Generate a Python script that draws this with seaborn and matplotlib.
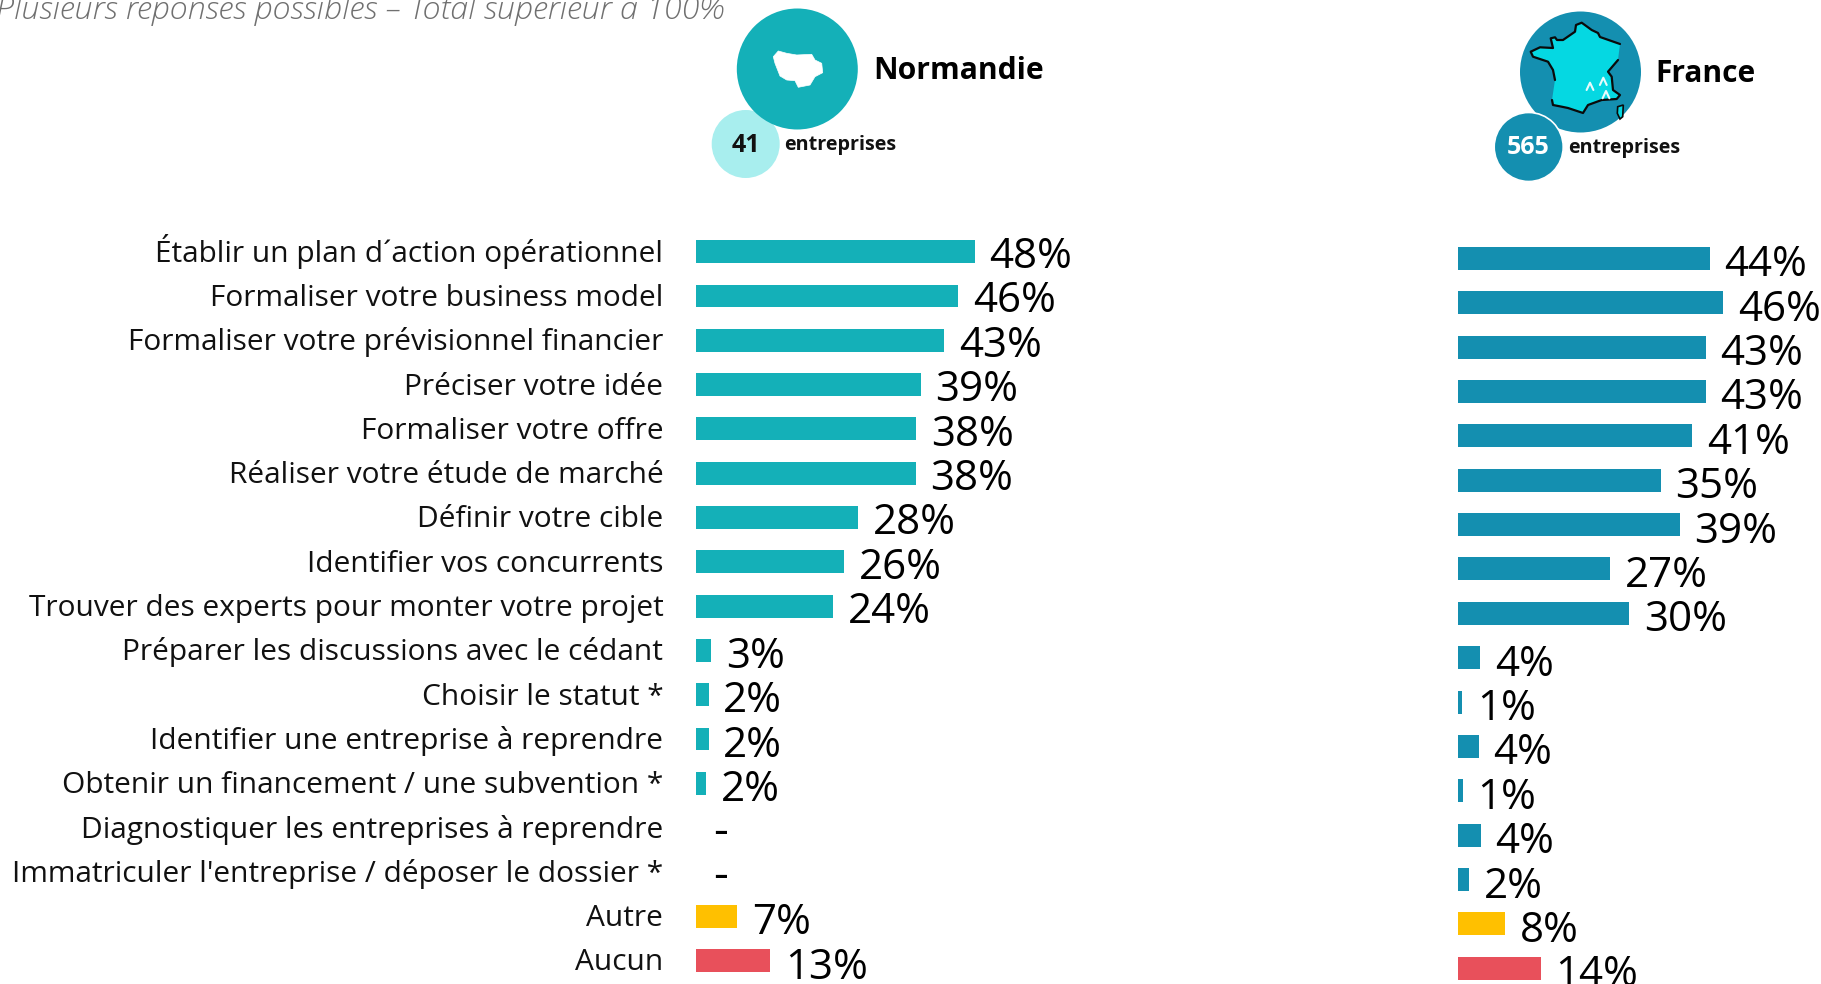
import matplotlib
matplotlib.use("Agg")
import matplotlib.pyplot as plt
from matplotlib.patches import Circle, Polygon
from matplotlib.transforms import ScaledTranslation
import pandas as pd
import seaborn as sns

W, H = 1821, 984
TEAL, BLUE, PALE, CYAN = "#14B0B8", "#148FB0", "#A8EEEE", "#05D8E2"
YELLOW, RED = "#FFC000", "#E8505B"

categories = ["Établir un plan d´action opérationnel", "Formaliser votre business model",
              "Formaliser votre prévisionnel financier", "Préciser votre idée",
              "Formaliser votre offre", "Réaliser votre étude de marché", "Définir votre cible",
              "Identifier vos concurrents", "Trouver des experts pour monter votre projet",
              "Préparer les discussions avec le cédant", "Choisir le statut *",
              "Identifier une entreprise à reprendre", "Obtenir un financement / une subvention *",
              "Diagnostiquer les entreprises à reprendre",
              "Immatriculer l'entreprise / déposer le dossier *", "Autre", "Aucun"]
normandie_values = [48.1, 45.2, 42.8, 38.8, 38.0, 37.85, 27.9, 25.6, 23.7, 2.6, 2.2, 2.2, 1.72, 0, 0, 7.1, 12.8]
normandie_labels = ["48%", "46%", "43%", "39%", "38%", "38%", "28%", "26%", "24%", "3%", "2%", "2%", "2%", "-", "-", "7%", "13%"]
france_values = [43.5, 45.8, 42.8, 42.8, 40.5, 35.0, 38.3, 26.3, 29.6, 3.9, 0.85, 3.7, 0.95, 4.05, 2.05, 8.2, 14.4]
france_labels = ["44%", "46%", "43%", "43%", "41%", "35%", "39%", "27%", "30%", "4%", "1%", "4%", "1%", "4%", "2%", "8%", "14%"]

sns.set_theme(style="white")
plt.rcParams["font.family"] = ["Open Sans", "DejaVu Sans"]

fig = plt.figure(figsize=(W / 100, H / 100), dpi=100, facecolor="white")
PX_PER_PCT = 5.8


def bar_axes(x0, first_center, row, width):
    top = first_center - row / 2
    height = row * len(categories)
    return fig.add_axes([x0 / W, 1 - (top + height) / H, width / W, height / H])


def draw(ax, values, labels, colour, width, base_px, drift_px):
    df = pd.DataFrame({"cat": categories, "v": values})
    palette = [colour] * 15 + [YELLOW, RED]
    sns.barplot(data=df, x="v", y="cat", hue="cat", palette=palette, legend=False,
                width=0.519, saturation=1, ax=ax, order=categories, hue_order=categories,
                edgecolor="none", linewidth=0)
    ax.set_xlim(0, width / PX_PER_PCT)
    ax.set_ylim(len(categories) - 0.5, -0.5)
    ax.set_xlabel("")
    ax.set_ylabel("")
    ax.set_xticks([])
    sns.despine(ax=ax, left=True, bottom=True)
    for i, (v, lab) in enumerate(zip(values, labels)):
        dy = -(base_px + drift_px * i) * 0.72
        if lab == "-":
            ax.annotate("-", (0, i), xytext=(12, -17.5 * 0.72), textcoords="offset points", fontsize=33,
                        va="baseline", ha="left", color="black", annotation_clip=False)
        else:
            ax.annotate(lab, (v, i), xytext=(10.5, dy), textcoords="offset points", fontsize=30.3,
                        va="baseline", ha="left", color="black", annotation_clip=False)


ax1 = bar_axes(696, 251.7, 44.3, 420)
draw(ax1, normandie_values, normandie_labels, TEAL, 420, 16.2, 0.13)
ax1.tick_params(axis="y", length=0, pad=23.5, labelsize=21.55, labelcolor="#111111")
shift = ScaledTranslation(0, -10 / 100, fig.dpi_scale_trans)
for lab in ax1.get_yticklabels():
    lab.set_verticalalignment("baseline")
    lab.set_transform(lab.get_transform() + shift)

ax2 = bar_axes(1457.5, 258.3, 44.375, 363)
draw(ax2, france_values, france_labels, BLUE, 363, 18.0, 0)
ax2.set_yticks(range(len(categories)))
ax2.set_yticklabels([])
ax2.tick_params(axis="y", length=0)

# Header: circles, map icons and texts, in a full-figure pixel overlay
ov = fig.add_axes([0, 0, 1, 1], zorder=5)
ov.set_xlim(0, W)
ov.set_ylim(H, 0)
ov.axis("off")
ov.patch.set_alpha(0)

ov.text(-4, 19, "Plusieurs réponses possibles – Total supérieur à 100%", fontsize=23.2, style="italic",
        weight="light", color="#707070", va="baseline", ha="left", clip_on=False)

ov.add_patch(Circle((745.7, 144), 34, fc=PALE, ec="none"))
ov.add_patch(Circle((797.3, 69), 60.5, fc=TEAL, ec="none"))
ov.add_patch(Polygon([(773.3, 56.7), (778.3, 51), (786.7, 53.3), (796.7, 55), (811.7, 54.3), (815, 60),
                      (821.7, 63.3), (822.7, 72.7), (815, 76.7), (810, 85), (798.3, 87.3), (795, 80.7),
                      (786.7, 80), (780, 76), (775, 63.3)], fc="white", ec="white", lw=0.5))
ov.text(745.5, 145, "41", fontsize=18, weight="bold", color="#111111", ha="center", va="center")
ov.text(784.5, 145, "entreprises", fontsize=14.2, weight="bold", color="#111111", ha="left", va="center")
ov.text(873, 71, "Normandie", fontsize=21.7, weight="bold", color="black", ha="left", va="center")

ov.add_patch(Circle((1580.5, 72), 60.5, fc=BLUE, ec="none"))
ov.add_patch(Circle((1528.7, 147), 34.5, fc=BLUE, ec="white", lw=1.2))
west = [(1555, 80), (1553, 70), (1548, 61.7), (1533, 56.7), (1530.7, 51.7), (1540, 47.3), (1553, 48), (1550.7, 38.3),
        (1555, 37.3), (1557, 40), (1563, 40), (1575, 31.7), (1576, 25), (1581.7, 22.7), (1591.7, 30), (1598, 33),
        (1600, 37), (1620, 44)]
east = [(1618, 60), (1608, 71.7), (1611.7, 76.7), (1613, 90), (1620, 95), (1616.7, 99), (1601.7, 100), (1588, 105),
        (1583, 113), (1568, 108), (1561.7, 106.7), (1553, 105), (1552, 100)]
ov.add_patch(Polygon(west + east, fc=CYAN, ec="none"))
ov.plot(*zip(*west), color="#0A0A0A", lw=1.6, solid_joinstyle="round")
ov.plot(*zip(*east), color="#0A0A0A", lw=1.6, solid_joinstyle="round")
ov.add_patch(Polygon([(1617.7, 106.7), (1623.3, 105), (1622.7, 116.7), (1620, 119), (1617.3, 113.3)],
                     fc=CYAN, ec="#0A0A0A", lw=1.2))
for x, tip, foot in [(1590, 82.7, 90), (1603.3, 77.7, 85), (1606, 91, 98.3)]:
    ov.plot([x - 3.4, x, x + 3.4], [foot, tip, foot], color="#E8FBFB", lw=1.5)
ov.text(1528.5, 148, "565", fontsize=18, weight="bold", color="white", ha="center", va="center")
ov.text(1568, 148, "entreprises", fontsize=14.2, weight="bold", color="#111111", ha="left", va="center")
ov.text(1655.5, 74, "France", fontsize=21.5, weight="bold", color="black", ha="left", va="center")

fig.savefig("out.png", dpi=100, facecolor="white")
